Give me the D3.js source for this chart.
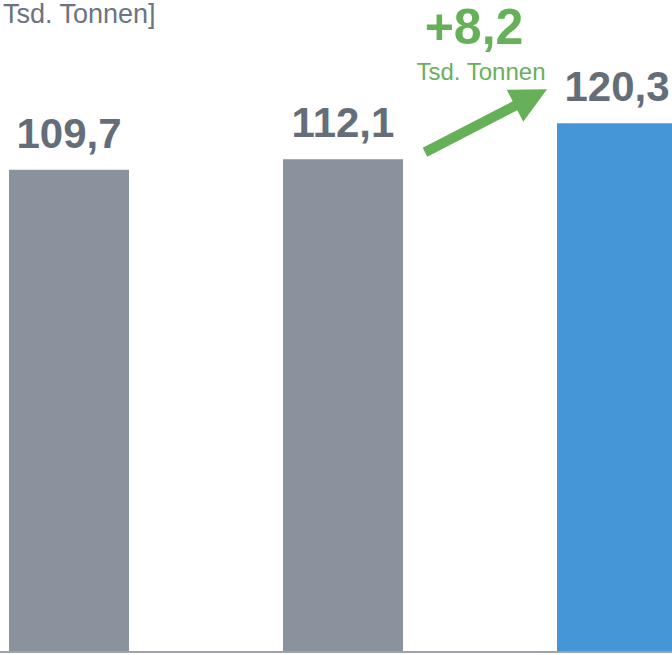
<!DOCTYPE html>
<html>
<head>
<meta charset="utf-8">
<script src="https://cdn.jsdelivr.net/npm/d3@7"></script>
<style>
  html, body { margin: 0; padding: 0; background: #fff; overflow: hidden; }
  svg { display: block; }
</style>
</head>
<body>
<svg id="chart" width="672" height="655"></svg>
<script>
// ---- data ----
const categories = ["Jahr 1", "Jahr 2", "Jahr 3"];
const values = [109.7, 112.1, 120.3];
const valueLabels = ["109,7", "112,1", "120,3"];
const barColors = ["#89929d", "#89929d", "#4596d7"];
const unitLabel = "Tsd. Tonnen]";
const deltaUnit = "Tsd. Tonnen";

const W = 672, H = 655;
const svg = d3.select("#chart");
const FONT = "'Liberation Sans', Arial, Helvetica, sans-serif";

const x = d3.scaleBand().domain(categories).range([9, 677]).paddingInner(154 / 274).paddingOuter(0);
const y = d3.scaleLinear().domain([0, 148.4]).range([651, 0]);

// bars
svg.selectAll("rect.bar").data(values).join("rect")
  .attr("class", "bar")
  .attr("x", (d, i) => x(categories[i]))
  .attr("y", d => y(d))
  .attr("width", x.bandwidth())
  .attr("height", d => y(0) - y(d))
  .attr("fill", (d, i) => barColors[i]);

// baseline
svg.append("line")
  .attr("x1", 0).attr("x2", W)
  .attr("y1", y(0) + 1).attr("y2", y(0) + 1)
  .attr("stroke", "#9da3a9").attr("stroke-width", 2);

// value labels
svg.selectAll("text.val").data(values).join("text")
  .attr("class", "val")
  .attr("x", (d, i) => x(categories[i]) + x.bandwidth() / 2)
  .attr("y", d => y(d) - 22)
  .attr("text-anchor", "middle")
  .attr("font-family", FONT)
  .attr("font-weight", "bold")
  .attr("font-size", 42)
  .attr("fill", "#646e7a")
  .text((d, i) => valueLabels[i]);

// unit label top-left
svg.append("text")
  .attr("x", 3).attr("y", 23)
  .attr("font-family", FONT)
  .attr("font-size", 27)
  .attr("fill", "#6b7480")
  .text(unitLabel);

// delta annotation
const green = "#67b05a";
const delta = values[2] - values[1];
const deltaText = "+" + d3.format(".1f")(delta).replace(".", ",");
const b2end = x(categories[1]) + x.bandwidth();
const b3start = x(categories[2]);
const mid = (b2end + b3start) / 2;

svg.append("text")
  .attr("x", mid - 6).attr("y", 44)
  .attr("text-anchor", "middle")
  .attr("font-family", FONT)
  .attr("font-weight", "bold")
  .attr("font-size", 50)
  .attr("fill", green)
  .text(deltaText);

svg.append("text")
  .attr("x", mid + 1).attr("y", 80)
  .attr("text-anchor", "middle")
  .attr("font-family", FONT)
  .attr("font-size", 24)
  .attr("fill", green)
  .text(deltaUnit);

// arrow
const sx = b2end + 22, sy = y(values[1]) - 7;
const tx = b3start - 10, ty = y(values[2]) - 34;
const dx = tx - sx, dy = ty - sy, len = Math.hypot(dx, dy);
const ux = dx / len, uy = dy / len;      // direction
const px = -uy, py = ux;                  // perpendicular
const shaftHalf = 5, headLen = 36, headHalf = 18;
const bx = tx - ux * headLen, by = ty - uy * headLen;
const pts = [
  [sx + px * shaftHalf, sy + py * shaftHalf],
  [bx + px * shaftHalf, by + py * shaftHalf],
  [bx + px * headHalf, by + py * headHalf],
  [tx, ty],
  [bx - px * headHalf, by - py * headHalf],
  [bx - px * shaftHalf, by - py * shaftHalf],
  [sx - px * shaftHalf, sy - py * shaftHalf]
];
svg.append("path")
  .attr("d", d3.line()(pts) + "Z")
  .attr("fill", green);
</script>
</body>
</html>
